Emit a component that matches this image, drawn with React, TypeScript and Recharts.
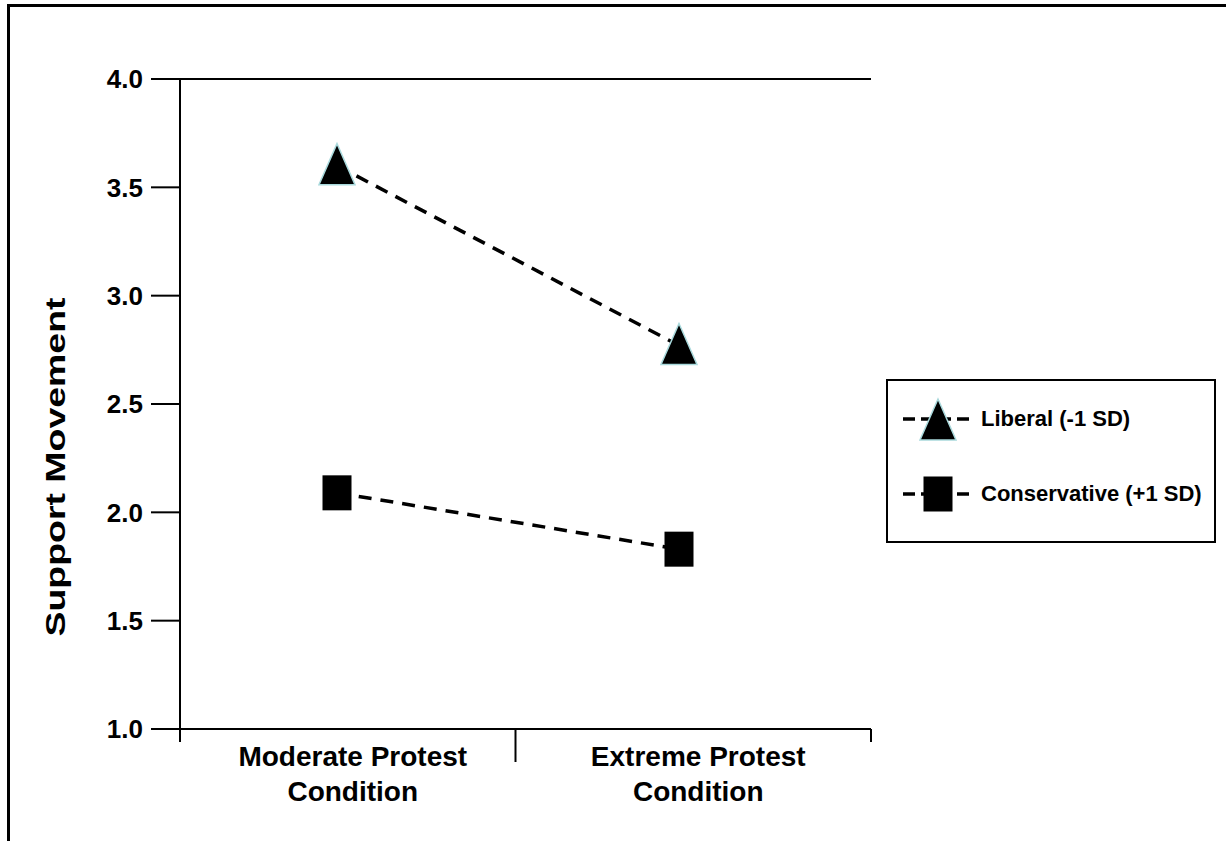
import React from 'react';
import { LineChart, Line, XAxis, YAxis, ReferenceLine, Label } from 'recharts';

const categories = ['Moderate Protest Condition', 'Extreme Protest Condition'];
const categoryLines = [
  ['Moderate Protest', 'Condition'],
  ['Extreme Protest', 'Condition'],
];
const liberal = [3.6, 2.77];
const conservative = [2.09, 1.83];
const yTicks = [1.0, 1.5, 2.0, 2.5, 3.0, 3.5, 4.0];
const seriesNames = ['Liberal (-1 SD)', 'Conservative (+1 SD)'];

const data = categories.map((c, i) => ({
  condition: c,
  liberal: liberal[i],
  conservative: conservative[i],
}));

const FONT = '"Liberation Sans", Arial, Helvetica, sans-serif';
const HALF_BAND = (871 - 180) / 4;

const Triangle = ({ cx, cy }: any) => (
  <polygon
    points={`${cx},${cy - 22} ${cx - 18},${cy + 19} ${cx + 18},${cy + 19}`}
    fill="#000"
    stroke="#a9d9dc"
    strokeWidth={1.5}
  />
);

const Square = ({ cx, cy }: any) => (
  <rect x={cx - 14.5} y={cy - 17.5} width={29} height={35} fill="#000" />
);

const XTick = (props: any) => {
  const { x, y, payload } = props;
  const idx = categories.indexOf(payload.value);
  const off = HALF_BAND;
  const lines = categoryLines[idx] || [payload.value];
  // divider between the two conditions sits a little left of the band edge
  const rightX = idx === 0 ? x + off - 10 : x + off;
  return (
    <g>
      {idx === 0 && <line x1={x - off} x2={x - off} y1={y} y2={y + 13} stroke="#000" strokeWidth={2} />}
      <line x1={rightX} x2={rightX} y1={y} y2={y + (idx === 0 ? 33 : 13)} stroke="#000" strokeWidth={2} />
      {lines.map((t, i) => (
        <text
          key={i}
          x={x}
          y={y + 37 + i * 35}
          textAnchor="middle"
          fontFamily={FONT}
          fontSize={28}
          fontWeight={700}
          fill="#000"
        >
          {t}
        </text>
      ))}
    </g>
  );
};

const YLabel = () => (
  <text
    x={55}
    y={467}
    transform="rotate(-90, 55, 467)"
    textAnchor="middle"
    dominantBaseline="central"
    fontFamily={FONT}
    fontSize={28}
    fontWeight={700}
    fill="#000"
    textLength={339}
    lengthAdjust="spacingAndGlyphs"
  >
    Support Movement
  </text>
);

const LegendIcon = ({ kind }: { kind: 'tri' | 'sq' }) => (
  <svg width={72} height={46} style={{ display: 'block' }}>
    <line x1={0} x2={70} y1={23} y2={23} stroke="#000" strokeWidth={3.5} strokeDasharray="12 6" />
    {kind === 'tri' ? <Triangle cx={35} cy={25} /> : <Square cx={35} cy={23} />}
  </svg>
);

export default function App() {
  return (
    <div style={{ position: 'absolute', left: 0, top: 0, width: 1226, height: 841, overflow: 'hidden', background: '#fff' }}>
      <div
        style={{
          position: 'absolute',
          left: 7,
          top: 4,
          width: 1300,
          height: 900,
          borderTop: '3px solid #000',
          borderLeft: '3px solid #000',
        }}
      />
      <div style={{ position: 'absolute', left: 0, top: 0 }}>
        <LineChart width={1226} height={841} data={data} margin={{ top: 79, right: 355, bottom: 0, left: 0 }}>
          <XAxis
            dataKey="condition"
            type="category"
            scale="band"
            height={112}
            axisLine={{ stroke: '#000', strokeWidth: 2 }}
            tickLine={false}
            tickSize={0}
            tickMargin={0}
            tick={<XTick />}
            interval={0}
          />
          <XAxis
            xAxisId="pts"
            dataKey="condition"
            type="category"
            scale="point"
            padding={{ left: 157, right: 192 }}
            hide
          />
          <YAxis
            domain={[1, 4]}
            ticks={yTicks}
            width={180}
            axisLine={{ stroke: '#000', strokeWidth: 2 }}
            tickLine={{ stroke: '#000', strokeWidth: 2 }}
            tickSize={29}
            tickMargin={8}
            tickFormatter={(v: number) => v.toFixed(1)}
            tick={{ fill: '#000', fontSize: 26, fontWeight: 700, fontFamily: FONT }}
            interval={0}
          >
            <Label content={<YLabel />} />
          </YAxis>
          <YAxis
            yAxisId="r"
            orientation="right"
            domain={[1, 4]}
            width={0}
            tick={false}
            tickLine={false}
            axisLine={{ stroke: '#000', strokeWidth: 2 }}
          />
          <ReferenceLine y={4} stroke="#000" strokeWidth={2} />
          <Line
            xAxisId="pts"
            dataKey="liberal"
            name={seriesNames[0]}
            stroke="#000"
            strokeWidth={3.5}
            strokeDasharray="13 9"
            dot={(p: any) => <Triangle key={`t${p.index}`} cx={p.cx} cy={p.cy} />}
            activeDot={false}
            isAnimationActive={false}
          />
          <Line
            xAxisId="pts"
            dataKey="conservative"
            name={seriesNames[1]}
            stroke="#000"
            strokeWidth={3.5}
            strokeDasharray="13 9"
            dot={(p: any) => <Square key={`s${p.index}`} cx={p.cx} cy={p.cy} />}
            activeDot={false}
            isAnimationActive={false}
          />
        </LineChart>
      </div>
      <div
        style={{
          position: 'absolute',
          left: 886,
          top: 379,
          width: 330,
          height: 164,
          boxSizing: 'border-box',
          border: '2px solid #000',
          background: '#fff',
          fontFamily: FONT,
          fontWeight: 700,
          fontSize: 22,
          color: '#000',
        }}
      >
        {seriesNames.map((n, i) => (
          <div
            key={n}
            style={{
              position: 'absolute',
              left: 15,
              top: (i === 0 ? 40 : 115) - 23 - 2,
              height: 46,
              display: 'flex',
              alignItems: 'center',
              gap: 6,
              whiteSpace: 'nowrap',
            }}
          >
            <LegendIcon kind={i === 0 ? 'tri' : 'sq'} />
            <span>{n}</span>
          </div>
        ))}
      </div>
    </div>
  );
}
